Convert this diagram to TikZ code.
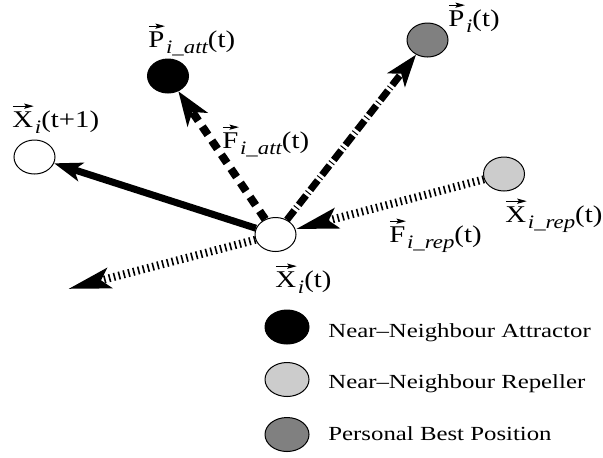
\documentclass[tikz,border=0pt]{standalone}
\usepackage{amsmath}
\usepackage{fontspec}
\setmainfont{Liberation Serif}
\usetikzlibrary{arrows.meta,shapes.geometric}
\definecolor{pbgray}{gray}{0.5}
\definecolor{repgray}{gray}{0.8}
\newlength\vecw
\newcommand{\va}[1]{\settowidth\vecw{#1}\rlap{\raisebox{0.76em}[0pt][0pt]{\tikz\draw[-{Stealth[length=4pt,width=2.6pt,inset=0.8pt]},line width=0.45pt](0pt,0pt)--(\vecw,0pt);}}#1}
\newcommand{\vlab}[3]{\scalebox{1.2}[1]{\va{#1}\kern0.06em\raisebox{-0.28em}{\fontsize{9.5}{10}\selectfont\itshape #2}(#3)}}
\newcommand{\leglab}[1]{\scalebox{1.24}[1]{#1}}
\begin{document}
\begin{tikzpicture}[x=0.5pt,y=-0.5pt,
  pt/.style={draw, ellipse, line width=0.5pt, minimum width=20.5pt, minimum height=17pt, inner sep=0pt},
  legpt/.style={pt, minimum width=22pt},
  lab/.style={font=\fontsize{12}{14}\selectfont, inner sep=0pt, anchor=base west},
  leg/.style={font=\fontsize{10}{12}\selectfont, inner sep=0pt, anchor=base west},
  solidf/.style={line width=3.5pt, -{Stealth[length=14pt,width=9.5pt,inset=3.5pt]}},
  dashf/.style={line width=4pt, dash pattern=on 5pt off 3.5pt, -{Stealth[length=17pt,width=12pt,inset=4.5pt]}},
  dotf/.style={line width=3.5pt, dash pattern=on 6pt off 1.5pt on 0.5pt off 1.5pt, -{Stealth[length=16pt,width=11pt,inset=4pt]}},
  hatchf/.style={line width=4pt, dash pattern=on 0.8pt off 1.7pt, -{Stealth[length=21pt,width=10pt,inset=4pt]}}]
\path[use as bounding box, fill=white] (0,0) rectangle (603,457);
% points
\node[pt] (c) at (275.5,234.5) {};
\node[pt] (x1) at (34.5,157) {};
\node[pt, fill=black] (att) at (168,76) {};
\node[pt, fill=pbgray] (pb) at (427.5,40) {};
\node[pt, fill=repgray] (rep) at (504,174) {};
\coordinate (away) at (68,289);
% forces
\draw[solidf] (c) -- (x1);
\draw[dashf] (c) -- (att);
\draw[dotf] (c) -- (pb);
\draw[hatchf] (rep) -- (c);
\draw[hatchf] (c) -- (away);
% labels
\node[lab] (lpatt) at (148,47) {\vlab{P}{i\_att}{t}};
\node[lab] (lx1) at (12,127) {\vlab{X}{i}{t+1}};
\node[lab] (lfatt) at (222,148) {\vlab{F}{i\_att}{t}};
\node[lab] (lpb) at (448,26) {\vlab{P}{i}{t}};
\node[lab] (lxrep) at (505,222) {\vlab{X}{i\_rep}{t}};
\node[lab] (lfrep) at (389,242) {\vlab{F}{i\_rep}{t}};
\node[lab] (lxi) at (275,287) {\vlab{X}{i}{t}};
% legend
\node[legpt, fill=black] (k1) at (287,327) {};
\node[legpt, fill=repgray] (k2) at (287,379.5) {};
\node[legpt, fill=pbgray] (k3) at (287,434.5) {};
\node[leg] (t1) at (328,337.5) {\leglab{Near--Neighbour Attractor}};
\node[leg] (t2) at (328,388.5) {\leglab{Near--Neighbour Repeller}};
\node[leg] (t3) at (328,440.5) {\leglab{Personal Best Position}};
\end{tikzpicture}
\end{document}
